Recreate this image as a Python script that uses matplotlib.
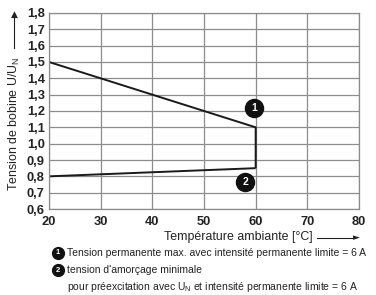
import matplotlib.pyplot as plt
from matplotlib.ticker import FuncFormatter

plt.rcParams['font.family'] = ['Liberation Sans', 'DejaVu Sans']

temp_max = [20, 60, 60]
u_max = [1.5, 1.1, 0.85]
temp_min = [20, 60]
u_min = [0.8, 0.85]

xticks = [20, 30, 40, 50, 60, 70, 80]
yticks = [0.6, 0.7, 0.8, 0.9, 1.0, 1.1, 1.2, 1.3, 1.4, 1.5, 1.6, 1.7, 1.8]

fig = plt.figure(figsize=(3.76, 2.95), dpi=100)
ax = fig.add_axes([0.1303, 0.2915, 0.8245, 0.6645])

ax.plot(temp_max, u_max, color='#1a1a1a', lw=1.4, solid_capstyle='butt')
ax.plot(temp_min, u_min, color='#1a1a1a', lw=1.4, solid_capstyle='butt')

ax.set_xlim(20, 80)
ax.set_ylim(0.6, 1.8)
ax.set_xticks(xticks)
ax.set_yticks(yticks)
ax.yaxis.set_major_formatter(FuncFormatter(lambda v, p: ('%.1f' % v).replace('.', ',')))
ax.grid(True, color='#8c8c8c', lw=0.9)
for s in ax.spines.values():
    s.set_color('#8c8c8c')
    s.set_linewidth(0.9)
ax.tick_params(length=0, labelsize=9.3)
ax.tick_params(axis='x', pad=5)
ax.tick_params(axis='y', pad=3)
for t in ax.get_xticklabels() + ax.get_yticklabels():
    t.set_fontweight('bold')
    t.set_color('#222222')

# numbered markers
for (x, y, n) in [(59.7, 1.22, '1'), (58.0, 0.765, '2')]:
    ax.plot(x, y, 'o', ms=13, color='#111111', clip_on=False)
    ax.text(x, y, n, color='white', fontsize=7.5, fontweight='bold', ha='center', va='center')

# axis labels with arrows
fig.text(238 / 376, 1 - 237 / 295, 'Température ambiante [°C]', fontsize=8.9,
         ha='center', va='center', color='#222222')
fig.add_artist(plt.Line2D([317 / 376, 352 / 376], [1 - 238 / 295] * 2, color='#222222', lw=0.8))
fig.text(356 / 376, 1 - 238 / 295, '►', fontsize=6.5, ha='center', va='center', color='#222222',
         family=['DejaVu Sans'])

fig.text(14 / 376, 1 - 124 / 295, 'Tension de bobine U/U$_\\mathregular{N}$', fontsize=8.9,
         rotation=90, ha='center', va='center', color='#222222')
fig.add_artist(plt.Line2D([14 / 376] * 2, [1 - 48 / 295, 1 - 18 / 295], color='#222222', lw=0.8))
fig.text(14 / 376, 1 - 14 / 295, '▲', fontsize=6.5, ha='center', va='center', color='#222222',
         family=['DejaVu Sans'])

# footnotes
notes = [
    (253, 'Tension permanente max. avec intensité permanente limite = 6 A', '1'),
    (270, "tension d'amorçage minimale", '2'),
    (287, 'pour préexcitation avec U$_\\mathregular{N}$ et intensité permanente limite = 6 A', None),
]
for y, txt, n in notes:
    fig.text(67 / 376, 1 - y / 295, txt, fontsize=7.5, ha='left', va='center', color='#222222')
    if n:
        fig.add_artist(plt.Line2D([58 / 376], [1 - y / 295], marker='o', ms=8.5, color='#111111'))
        fig.text(58 / 376, 1 - y / 295, n, fontsize=5.5, color='white', fontweight='bold',
                 ha='center', va='center')

fig.savefig('out.png', dpi=100)
